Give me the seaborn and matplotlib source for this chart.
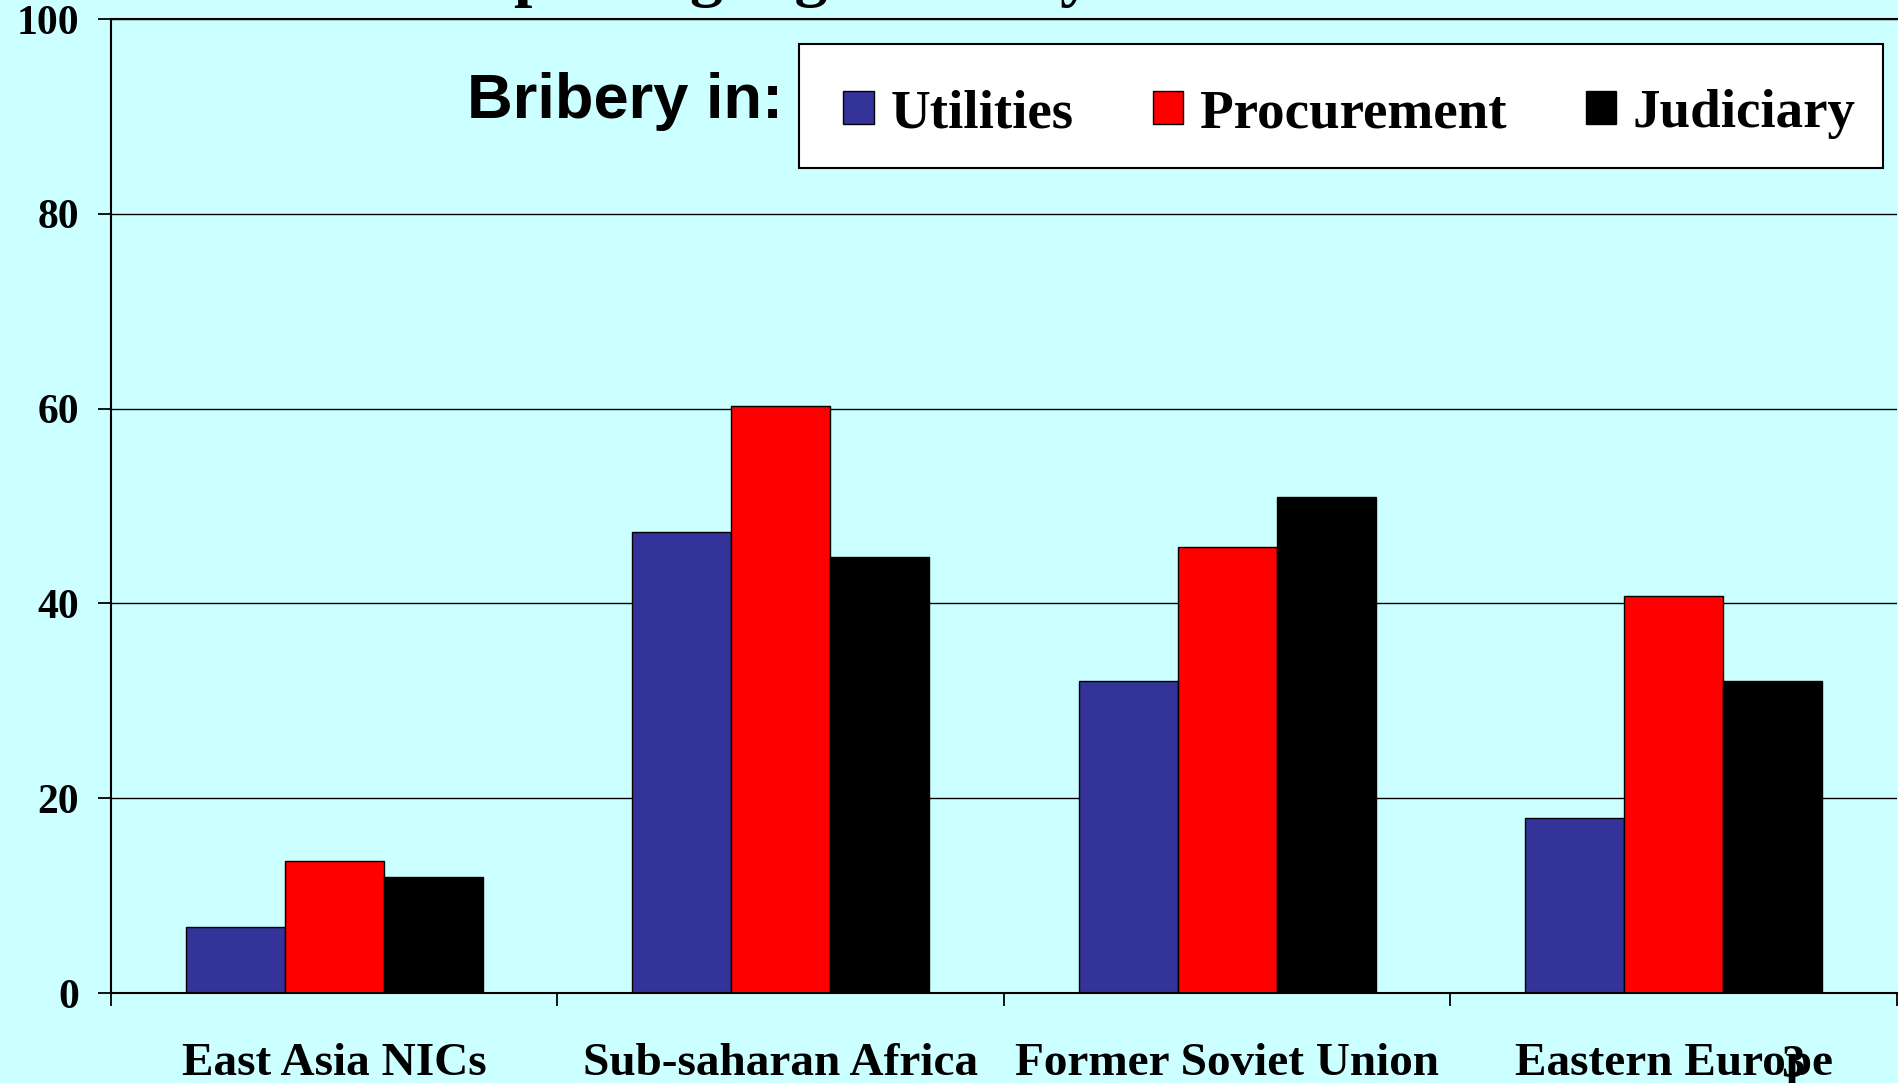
import matplotlib
matplotlib.use("Agg")
import matplotlib.pyplot as plt
import seaborn as sns
import pandas as pd
from matplotlib.patches import Patch, Rectangle
from matplotlib.font_manager import FontProperties

# data (% of firms)
regions = ["East Asia NICs", "Sub-saharan Africa", "Former Soviet Union", "Eastern Europe"]
types = ["Utilities", "Procurement", "Judiciary"]
utilities = [6.8, 47.3, 32.0, 18.0]
procurement = [13.6, 60.3, 45.8, 40.8]
judiciary = [11.9, 44.8, 50.9, 32.0]
colors = ["#333399", "#FF0000", "#000000"]
yticks = [0, 20, 40, 60, 80, 100]

rows = []
for t, vals in zip(types, [utilities, procurement, judiciary]):
    for r, v in zip(regions, vals):
        rows.append({"region": r, "type": t, "pct": v})
df = pd.DataFrame(rows)

sns.set_style("white")
plt.rcParams["text.color"] = "black"
plt.rcParams["xtick.color"] = "black"
plt.rcParams["ytick.color"] = "black"
plt.rcParams["axes.labelcolor"] = "black"

bg = "#CCFFFF"
W, H = 1899, 1083

fig = plt.figure(figsize=(W / 100, H / 100), dpi=100, facecolor=bg)
ax = fig.add_axes([111 / W, 1 - 993 / H, 1786 / W, (993 - 19) / H])
ax.set_facecolor(bg)

sns.barplot(data=df, x="region", y="pct", hue="type", hue_order=types, order=regions,
            palette=colors, width=0.665, gap=0, edgecolor="black", linewidth=1,
            saturation=1, errorbar=None, legend=False, ax=ax)

ax.set_xlim(-0.5, 3.5)
ax.set_ylim(0, 100)
ax.set_xlabel("")
ax.set_ylabel("")

# gridlines behind the bars
ax.set_axisbelow(True)
ax.set_yticks(yticks)
ax.yaxis.grid(True, color="black", linewidth=1)
ax.xaxis.grid(False)

for side in ["left", "bottom", "top"]:
    ax.spines[side].set_visible(True)
    ax.spines[side].set_color("black")
    ax.spines[side].set_linewidth(1.5)
ax.spines["right"].set_visible(False)

tick_font = FontProperties(family="Liberation Serif", weight="bold", size=30)
cat_font = FontProperties(family="Liberation Serif", weight="bold", size=34)

ax.set_yticklabels([str(v) for v in yticks], fontproperties=tick_font, color="black")
ax.tick_params(axis="y", direction="out", length=9.4, width=1.3, color="black", pad=13.7, left=True)

# labels at category centres, tick marks on category boundaries
ax.set_xticks(range(len(regions)))
ax.set_xticklabels(regions, fontproperties=cat_font, color="black")
ax.set_xticks([i - 0.5 for i in range(len(regions) + 1)], minor=True)
ax.tick_params(axis="x", which="major", length=0, pad=36, bottom=True)
ax.tick_params(axis="x", which="minor", direction="out", length=9.4, width=1.3, color="black", bottom=True)

# legend box and entries
box = Rectangle((799 / W, 1 - 168 / H), (1883 - 799) / W, 124 / H, transform=fig.transFigure,
                facecolor="white", edgecolor="black", linewidth=1.5, zorder=3)
fig.add_artist(box)
handles = [Patch(facecolor=c, edgecolor="black", linewidth=1) for c in colors]
fig.legend(handles, types, loc="center left", bbox_to_anchor=(816 / W, 1 - 114 / H), ncol=3,
           frameon=False, borderpad=0, handlelength=0.55, handleheight=0.55,
           handletextpad=0.3, columnspacing=1.45, labelcolor="black",
           prop=FontProperties(family="Liberation Serif", weight="bold", size=39.6))

fig.text(783 / W, 1 - 118 / H, "Bribery in:", ha="right", va="baseline", color="black",
         family="Liberation Sans", weight="bold", size=45.5)

# slide title, mostly cut off at the top edge
fig.text(136 / W, 1 + 6 / H, "% of firms reporting high bribery", ha="left", va="baseline",
         color="black", family="Liberation Serif", weight="bold", size=47.5)

# slide number
fig.text(1793 / W, 1 - 1077 / H, "3", ha="center", va="baseline", color="black",
         family="Liberation Serif", weight="bold", size=34)

fig.savefig("out.png", dpi=100, facecolor=bg)
